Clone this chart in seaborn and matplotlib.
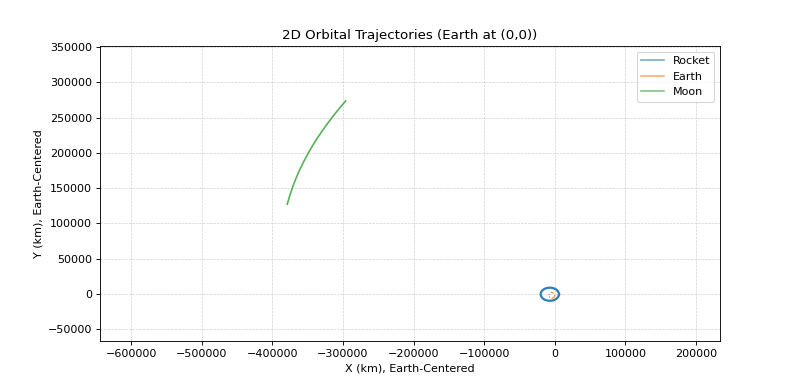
import matplotlib
matplotlib.use("Agg")
import matplotlib.pyplot as plt
import seaborn as sns
import pandas as pd

# Rocket trajectory (km, Earth-centered)
rocket_x = [6000, 5558, 4258, 2191, -500, -3635, -7000, -10365, -13500, -16191,
            -18258, -19558, -20000, -19558, -18258, -16191, -13500, -10365,
            -7000, -3635, -500, 2191, 4258, 5558, 6000]
rocket_y = [-500, 1907, 4150, 6076, 7554, 8483, 8800, 8483, 7554, 6076,
            4150, 1907, -500, -2907, -5150, -7076, -8554, -9483,
            -9800, -9483, -8554, -7076, -5150, -2907, -500]

# Earth trajectory (km)
earth_x = [-4200, -1230, 0, -1230, -4200]
earth_y = [-6300, -5070, -2100, 870, 2100]

# Near-Earth reference arc (grey)
ref_x = [-4200, -7170, -8400, -7170, -4200]
ref_y = [2100, 870, -2100, -5070, -6300]

# Moon trajectory (km)
moon_x = [-378800, -375300, -371200, -366500, -361200, -355200, -348700,
          -341500, -333600, -325200, -316100, -306400, -296100]
moon_y = [127100, 139300, 151500, 163700, 175900, 188100, 200300,
          212500, 224700, 236900, 249100, 261300, 273500]

df_r = pd.DataFrame({"x": rocket_x, "y": rocket_y})
df_e = pd.DataFrame({"x": earth_x, "y": earth_y})
df_g = pd.DataFrame({"x": ref_x, "y": ref_y})
df_m = pd.DataFrame({"x": moon_x, "y": moon_y})

fig, ax = plt.subplots(figsize=(10, 4.7875), dpi=80)
sns.lineplot(data=df_r, x="x", y="y", sort=False, estimator=None, ax=ax,
             color="#1f77b4", lw=2.0, alpha=0.95, label="Rocket")
sns.lineplot(data=df_g, x="x", y="y", sort=False, estimator=None, ax=ax,
             color="#777777", lw=1.0, alpha=0.8, linestyle=":")
sns.lineplot(data=df_e, x="x", y="y", sort=False, estimator=None, ax=ax,
             color="#ff7f0e", lw=1.2, alpha=0.8, label="Earth", linestyle="--")
sns.lineplot(data=df_m, x="x", y="y", sort=False, estimator=None, ax=ax,
             color="#2ca02c", lw=1.5, alpha=0.8, label="Moon")

ax.set_xlim(-644000, 234000)
ax.set_ylim(-66600, 351400)
ax.set_xticks([-600000, -500000, -400000, -300000, -200000, -100000, 0, 100000, 200000])
ax.set_yticks([-50000, 0, 50000, 100000, 150000, 200000, 250000, 300000, 350000])
ax.set_title("2D Orbital Trajectories (Earth at (0,0))")
ax.set_xlabel("X (km), Earth-Centered")
ax.set_ylabel("Y (km), Earth-Centered")
ax.grid(True, linestyle="--", linewidth=0.6, alpha=0.6)
leg = ax.legend(loc="upper right")
for line in leg.get_lines():
    line.set_linestyle("-")
    line.set_linewidth(1.5)
    line.set_alpha(0.6)

fig.savefig("out.png", dpi=80)
